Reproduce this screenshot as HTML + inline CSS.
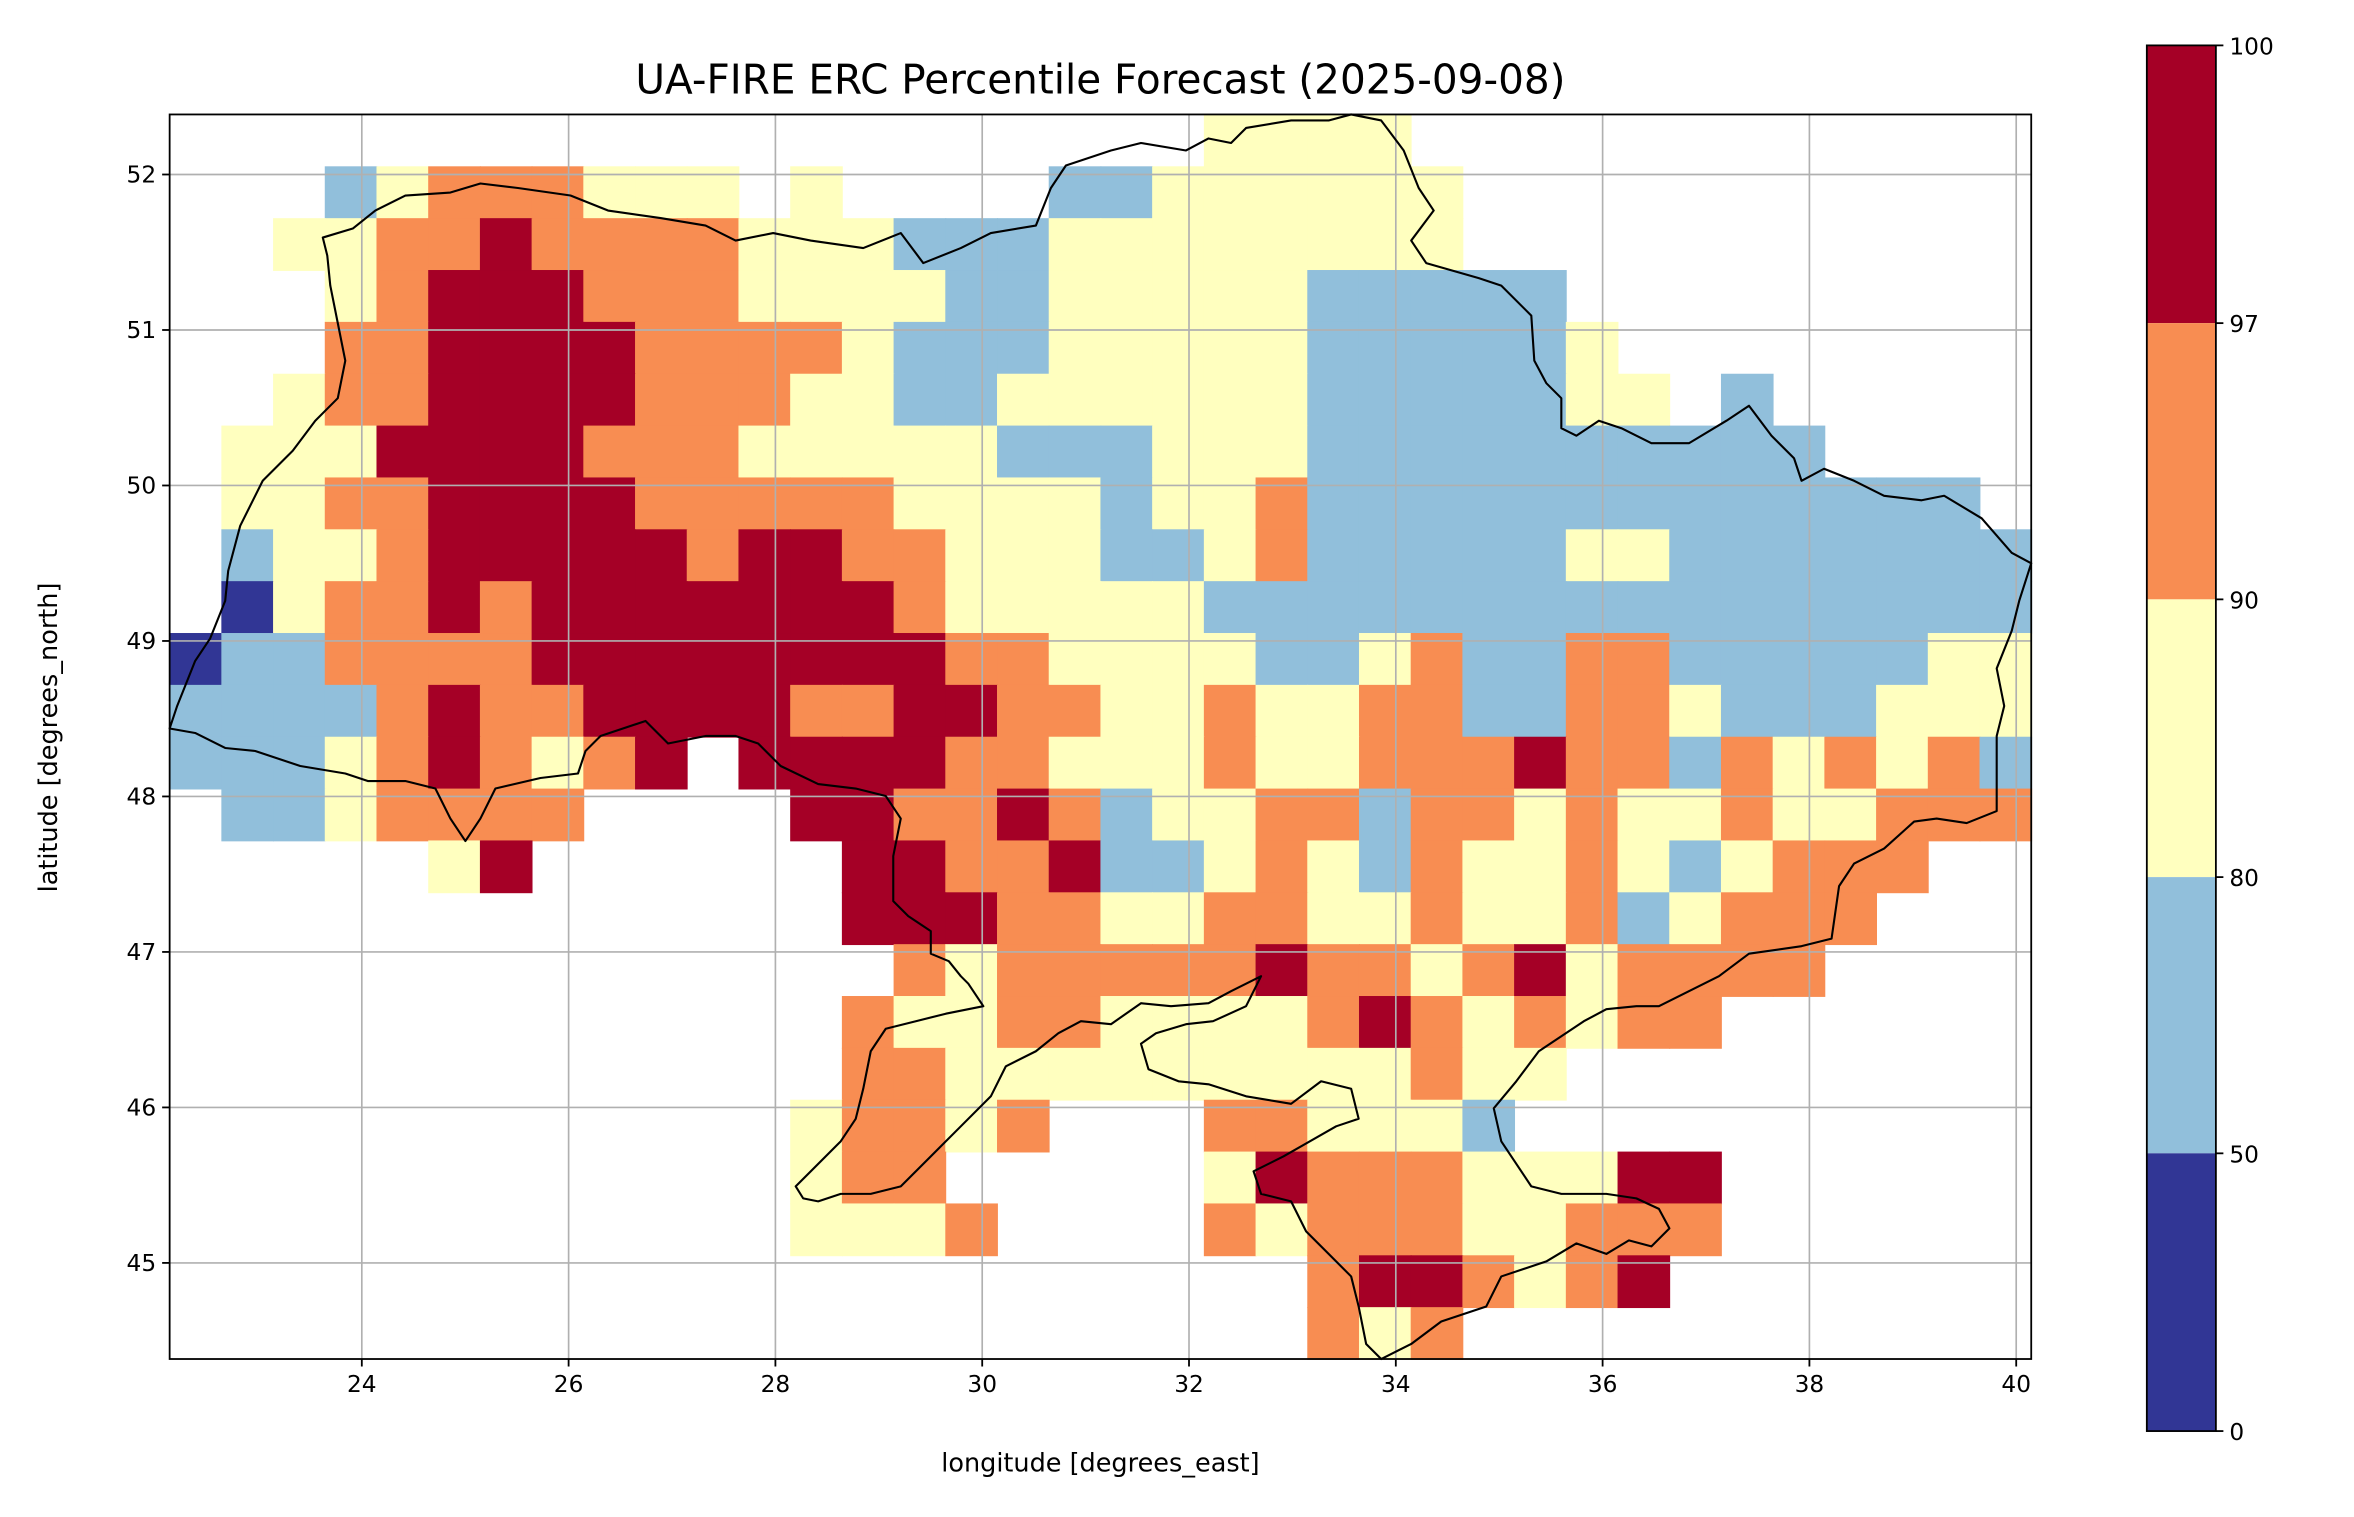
<!DOCTYPE html>
<html><head><meta charset="utf-8"><style>
html,body{margin:0;padding:0;background:#fff;}
svg{display:block;}
text{font-family:"DejaVu Sans","Liberation Sans",sans-serif;fill:#000;}
</style></head><body>
<svg id="s" width="2354" height="1517" viewBox="0 0 1568 1010" xmlns="http://www.w3.org/2000/svg">
<rect width="1568" height="1010" fill="#fff"/>
<g id="cells"></g>
<g id="grid" stroke="#b0b0b0" stroke-width="1.1"></g>
<polygon fill="none" stroke="#000" stroke-width="1.4" stroke-linejoin="round" points="215,158 235,152 250,140 270,130 300,128 320,122 345,125 380,130 405,140 440,145 470,150 490,160 515,155 540,160 575,165 600,155 615,175 640,165 660,155 690,150 700,125 710,110 740,100 760,95 790,100 805,92 820,95 830,85 860,80 885,80 900,76 920,80 935,100 945,125 955,140 940,160 950,175 985,185 1000,190 1020,210 1022,240 1030,255 1040,265 1040,285 1050,290 1065,280 1080,285 1100,295 1125,295 1150,280 1165,270 1180,290 1195,305 1200,320 1215,312 1235,320 1255,330 1280,333 1295,330 1320,345 1340,368 1353,375 1345,400 1340,420 1330,445 1335,470 1330,490 1330,540 1310,548 1290,545 1275,547 1255,565 1235,575 1225,590 1220,625 1200,630 1165,635 1145,650 1125,660 1105,670 1090,670 1070,672 1055,680 1040,690 1025,700 1010,720 995,738 1000,760 1020,790 1040,795 1070,795 1090,798 1105,805 1112,818 1100,830 1085,826 1070,835 1050,828 1030,840 1000,850 990,870 960,880 940,895 920,905 910,895 905,870 900,850 885,835 870,820 860,800 840,795 835,780 855,770 890,750 905,745 900,725 880,720 860,735 830,730 805,722 785,720 765,712 760,695 770,688 790,682 808,680 830,670 840,650 820,660 805,668 780,670 760,668 740,682 720,680 705,688 690,700 670,710 660,730 640,750 620,770 600,790 580,795 560,795 545,800 535,798 530,790 545,775 560,760 570,745 575,725 580,700 590,685 610,680 630,675 655,670 645,655 640,650 632,640 620,635 620,620 605,610 595,600 595,570 600,545 590,530 570,525 545,522 520,510 505,495 490,490 470,490 445,495 430,480 400,490 390,500 385,515 360,518 330,525 320,545 310,560 300,545 290,525 270,520 245,520 230,515 200,510 170,500 150,498 130,488 113,485 118,470 130,440 140,425 150,400 152,380 160,350 175,320 195,300 210,280 225,265 230,240 225,215 220,190 218,170"/>
<rect x="113" y="76" width="1240" height="829" fill="none" stroke="#000" stroke-width="1.2"/>
<text x="733" y="62" font-size="27" text-anchor="middle">UA-FIRE ERC Percentile Forecast (2025-09-08)</text>
<text x="733" y="980" font-size="17" text-anchor="middle">longitude [degrees_east]</text>
<text x="38" y="491" font-size="17" text-anchor="middle" transform="rotate(-90 38 491)">latitude [degrees_north]</text>
<g id="ticks" font-size="15.5"></g>
<rect x="1430" y="30" width="46" height="185" fill="#a50026"/>
<rect x="1430" y="215" width="46" height="184" fill="#f88d52"/>
<rect x="1430" y="399" width="46" height="185" fill="#ffffbf"/>
<rect x="1430" y="584" width="46" height="184" fill="#91bfdb"/>
<rect x="1430" y="768" width="46" height="185" fill="#313695"/>
<rect x="1430" y="30" width="46" height="923" fill="none" stroke="#000" stroke-width="1.2"/>
<g stroke="#000" stroke-width="1.2">
<line x1="1476" y1="30" x2="1481" y2="30"/><line x1="1476" y1="215" x2="1481" y2="215"/>
<line x1="1476" y1="399" x2="1481" y2="399"/><line x1="1476" y1="584" x2="1481" y2="584"/>
<line x1="1476" y1="768" x2="1481" y2="768"/><line x1="1476" y1="953" x2="1481" y2="953"/>
</g>
<g font-size="15.5">
<text x="1485" y="36">100</text><text x="1485" y="221">97</text><text x="1485" y="405">90</text>
<text x="1485" y="590">80</text><text x="1485" y="774">50</text><text x="1485" y="959">0</text>
</g>
</svg>
<script>
var rows=[
"....................YYYY............",
"...BYOOOYYY.Y....BBYYYYYY...........",
"..YYOOROOOOYYYBBBYYYYYYYY...........",
"...YORRROOOYYYYBBYYYYYBBBBB.........",
"...OORRRROOOOYBBBYYYYYBBBBBY........",
"..YOORRRROOOYYBBYYYYYYBBBBBYY.B.....",
".YYYRRRROOOYYYYYBBBYYYBBBBBBBBBB....",
".YYOORRRROOOOOYYYYBYYOBBBBBBBBBBBBB.",
".BYYORRRRRORROOYYYBBYOBBBBBYYBBBBBBB",
".DYOORORRRRRRROYYYYYBBBBBBBBBBBBBBBB",
"DBBOOOORRRRRRRROOYYYYBBYOBBOOBBBBBYY",
"BBBBOROORRRROORROOYYOYYOOBBOOYBBBYYY",
"BBBYOROYOR.RRRROOYYYOYYOOOROOBOYOYOB",
".BBYOOOO....RROOROBYYOOBOOYOYYOYYOOO",
".....YR......RROORBBYOYBOYYOYBYOOO..",
".............RRROOYYOOYYOYYOBYOOO...",
"..............OYOOOOOROOYORYOOOO....",
".............OYYOOYYYYOROYOYOO......",
".............OOYYYYYYYYYOYY.........",
"............YOOYO...OOYYYB..........",
"............YOO.....YROOOYYYRR......",
"............YYYO....OYOOOYYOOO......",
"......................ORROYOR.......",
"......................OYO..........."];
var col={Y:"#ffffbf",O:"#f88d52",R:"#a50026",B:"#91bfdb",D:"#313695"};
var ns="http://www.w3.org/2000/svg",g=document.getElementById("cells");
var cw=1240/36,ch=829/24;
rows.forEach(function(r,i){for(var j=0;j<r.length;j++){var c=col[r[j]];if(!c)continue;
var e=document.createElementNS(ns,"rect");e.setAttribute("x",113+j*cw);e.setAttribute("y",76+i*ch);
e.setAttribute("width",cw+0.6);e.setAttribute("height",ch+0.6);e.setAttribute("fill",c);g.appendChild(e);}});
var gr=document.getElementById("grid"),tk=document.getElementById("ticks");
function ln(p,x1,y1,x2,y2,s){var e=document.createElementNS(ns,"line");e.setAttribute("x1",x1);e.setAttribute("y1",y1);e.setAttribute("x2",x2);e.setAttribute("y2",y2);if(s){e.setAttribute("stroke",s);e.setAttribute("stroke-width",1.2);}p.appendChild(e);}
function tx(p,x,y,t,a){var e=document.createElementNS(ns,"text");e.setAttribute("x",x);e.setAttribute("y",y);e.setAttribute("text-anchor",a);e.textContent=t;p.appendChild(e);}
for(var k=0;k<9;k++){var x=241+k*137.75;ln(gr,x,76,x,905);ln(tk,x,905,x,910,"#000");tx(tk,x,927,String(24+2*k),"middle");}
for(var i=0;i<8;i++){var y=116+i*103.57;ln(gr,113,y,1353,y);ln(tk,108,y,113,y,"#000");tx(tk,104,y+5.5,String(52-i),"end");}
</script>
</body></html>
